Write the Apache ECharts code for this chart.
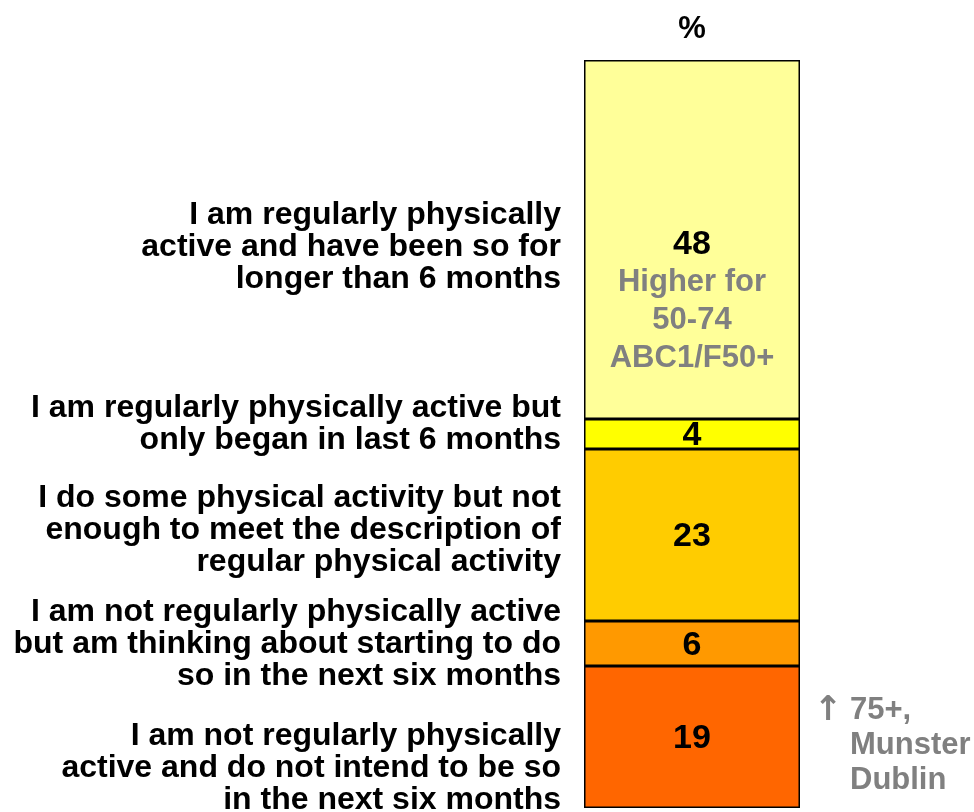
<!DOCTYPE html>
<html>
<head>
<meta charset="utf-8">
<script src="https://cdn.jsdelivr.net/npm/echarts@6/dist/echarts.min.js"></script>
<style>
  html, body { margin: 0; padding: 0; background: #fff; }
  #chart { width: 974px; height: 812px; }
</style>
</head>
<body>
<div id="chart"></div>
<script>
// top-to-bottom order, as drawn
const categories = ['%'];
const statements = [
	'I am regularly physically\nactive and have been so for\nlonger than 6 months',
	'I am regularly physically active but\nonly began in last 6 months',
	'I do some physical activity but not\nenough to meet the description of\nregular physical activity',
	'I am not regularly physically active\nbut am thinking about starting to do\nso in the next six months',
	'I am not regularly physically\nactive and do not intend to be so\nin the next six months'
];
const values = [48, 4, 23, 6, 19];
const colors = ['#FFFF99', '#FFFF00', '#FFCC00', '#FF9900', '#FF6600'];
const topNote = ['Higher for', '50-74', 'ABC1/F50+'];
const bottomNote = ['75+,', 'Munster', 'Dublin'];

// nudges for the left-hand statements (px)
const statementShift = [8, -10, -5, 1, 31];

const font = '"Liberation Sans", Arial, sans-serif';
const chart = echarts.init(document.getElementById('chart'));

let series = [];
for (let i = values.length - 1; i >= 0; i--) {
	let below = 0;
	for (let j = i + 1; j < values.length; j++) below += values[j];
	const mid = below + values[i] / 2;

	let label = {
		show: true,
		position: 'inside',
		color: '#000',
		fontFamily: font,
		fontWeight: 'bold',
		fontSize: 34,
		offset: [0, 2]
	};
	if (i === 0) {
		label.formatter = () => '{v|' + values[i] + '}\n' + topNote.map(t => '{n|' + t + '}').join('\n');
		label.offset = [0, 62];
		label.rich = {
			v: { fontSize: 34, fontWeight: 'bold', color: '#000', lineHeight: 38, fontFamily: font },
			n: { fontSize: 31, fontWeight: 'bold', color: '#808080', lineHeight: 38, fontFamily: font }
		};
	} else {
		label.formatter = () => String(values[i]);
	}

	let marks = [{
		coord: [0, mid],
		label: {
			show: true,
			position: 'inside',
			align: 'right',
			verticalAlign: 'middle',
			offset: [-131, statementShift[i]],
			formatter: statements[i],
			color: '#000',
			fontFamily: font,
			fontWeight: 'bold',
			fontSize: 32,
			lineHeight: 32
		}
	}];
	if (i === values.length - 1) {
		marks.push({
			coord: [0, mid],
			label: {
				show: true,
				position: 'inside',
				align: 'left',
				verticalAlign: 'middle',
				offset: [122, 9],
				formatter: bottomNote.map((t, k) => '{a|' + (k === 0 ? '\u2191' : '\u00a0') + '}{t|' + t + '}').join('\n'),
				rich: {
					a: { width: 36, fontSize: 34, color: '#808080', fontWeight: 'bold', lineHeight: 35, fontFamily: 'DejaVu Sans' },
					t: { fontSize: 31, color: '#808080', fontWeight: 'bold', lineHeight: 35, fontFamily: font }
				}
			}
		});
	}

	series.push({
		name: statements[i],
		type: 'bar',
		stack: 'total',
		barWidth: '100%',
		data: [values[i]],
		itemStyle: { color: colors[i], borderColor: '#000', borderWidth: 1.5 },
		label: label,
		markPoint: {
			symbol: 'rect',
			symbolSize: 0,
			silent: true,
			data: marks
		}
	});
}

const option = {
	animation: false,
	grid: { left: 584, right: 174, top: 60, bottom: 4 },
	xAxis: {
		type: 'category',
		position: 'top',
		data: categories,
		axisLine: { show: false },
		axisTick: { show: false },
		axisLabel: { fontFamily: font, fontWeight: 'bold', fontSize: 31, color: '#000', margin: 15 }
	},
	yAxis: {
		type: 'value',
		min: 0,
		max: 100,
		show: false
	},
	series: series
};

chart.setOption(option);
</script>
</body>
</html>
